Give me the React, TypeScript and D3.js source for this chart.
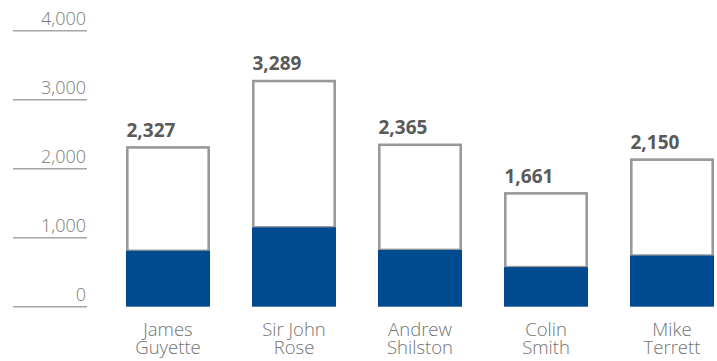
import React from "react";
import * as d3 from "d3";

const names: string[][] = [
  ["James", "Guyette"],
  ["Sir John", "Rose"],
  ["Andrew", "Shilston"],
  ["Colin", "Smith"],
  ["Mike", "Terrett"],
];
const totals = [2327, 3289, 2365, 1661, 2150];
const fixedPart = [810, 1150, 823, 573, 741];
const ticks = [0, 1000, 2000, 3000, 4000];

const W = 717;
const H = 361;

export default function App() {
  const keys = names.map((n) => n.join(" "));
  const y = d3.scaleLinear().domain([0, 4000]).range([306.7, 30.7]);
  const x = d3
    .scaleBand<string>()
    .domain(keys)
    .range([105, 735])
    .paddingInner(1 / 3)
    .paddingOuter(1 / 6);
  const bw = x.bandwidth();
  const sw = 2.6;
  const fmt = d3.format(",");
  const font = "'Open Sans', 'Segoe UI', sans-serif";

  return (
    <div style={{ position: "absolute", left: 0, top: 0 }}>
      <svg width={W} height={H} style={{ display: "block", fontFamily: font }}>
        <rect width={W} height={H} fill="#fff" />
        {ticks.map((t) => (
          <g key={t}>
            <line x1={13} x2={87} y1={y(t)} y2={y(t)} stroke="#a6a6a6" strokeWidth={1.4} />
            <text
              x={86}
              y={y(t) - 6}
              textAnchor="end"
              fontSize={18}
              fontWeight={300}
              fill="#7a7a7a"
            >
              {fmt(t)}
            </text>
          </g>
        ))}
        {keys.map((k, i) => {
          const x0 = x(k)!;
          const yTop = y(totals[i]);
          const yMid = y(fixedPart[i]);
          return (
            <g key={k}>
              <rect
                x={x0 + sw / 2}
                y={yTop + sw / 2}
                width={bw - sw}
                height={yMid - yTop - sw / 2}
                fill="#fff"
                stroke="#999999"
                strokeWidth={sw}
              />
              <rect x={x0} y={yMid} width={bw} height={y(0) - yMid} fill="#004a8f" />
              <text
                x={x0 + 0.5}
                y={yTop - 9.5}
                fontSize={19}
                fontWeight={700}
                fill="#5a5a5a"
              >
                {fmt(totals[i])}
              </text>
              {names[i].map((line, j) => (
                <text
                  key={j}
                  x={x0 + bw / 2}
                  y={335.7 + j * 18}
                  textAnchor="middle"
                  fontSize={18.5}
                  fontWeight={300}
                  fill="#727272"
                >
                  {line}
                </text>
              ))}
            </g>
          );
        })}
      </svg>
    </div>
  );
}
